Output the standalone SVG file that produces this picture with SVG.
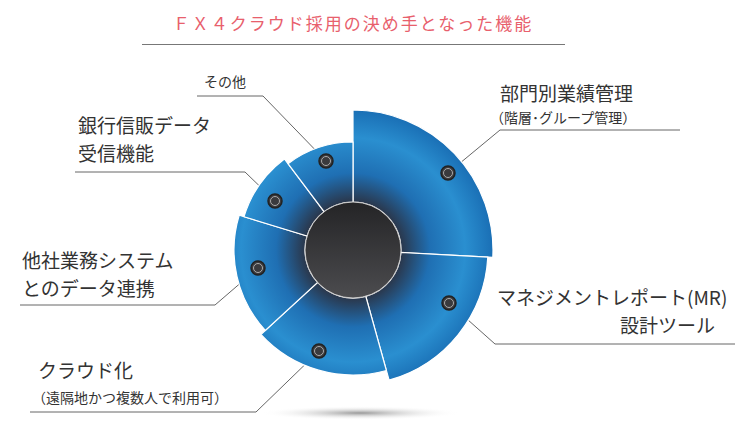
<svg xmlns="http://www.w3.org/2000/svg" width="750" height="437" viewBox="0 0 750 437">
<defs>
<radialGradient id="seg" gradientUnits="userSpaceOnUse" cx="353" cy="250" r="140">
<stop offset="0.33" stop-color="#2b3344"/>
<stop offset="0.55" stop-color="#1f6fb3"/>
<stop offset="0.8" stop-color="#2a8fd0"/>
<stop offset="1" stop-color="#1a6fb5"/>
</radialGradient>
<linearGradient id="hub" x1="0" y1="0" x2="0" y2="1">
<stop offset="0" stop-color="#242426"/><stop offset="1" stop-color="#4c4c4f"/>
</linearGradient>
<radialGradient id="shadow" cx="0.5" cy="0.5" r="0.5">
<stop offset="0" stop-color="#999"/><stop offset="1" stop-color="#fff" stop-opacity="0"/>
</radialGradient>
<style>
.seg{fill:url(#seg);stroke:#fff;stroke-width:1.2}
.dot{fill:#3a3a3d;stroke:#222;stroke-width:1.5}
.ring{fill:none;stroke:#aaa;stroke-width:1}
.lead{fill:none;stroke:#666;stroke-width:1}
.lbl{font-family:"Noto Sans CJK JP","Noto Sans",sans-serif;font-size:19px;fill:#333}
.sub{font-family:"Noto Sans CJK JP","Noto Sans",sans-serif;font-size:14px;fill:#333}
</style>
</defs>
<rect width="750" height="437" fill="#fff"/>
<text x="353" y="30" text-anchor="middle" font-family="'Noto Sans CJK JP',sans-serif" font-size="17" letter-spacing="2" fill="#e8606c">ＦＸ４クラウド採用の決め手となった機能</text>
<line x1="142" y1="44.5" x2="565" y2="44.5" stroke="#777" stroke-width="1"/>
<ellipse cx="360" cy="413" rx="100" ry="7" fill="url(#shadow)"/>
<g id="connectors">
<polyline class="lead" points="197,96 263,96 326,161"/>
<polyline class="lead" points="75,172 245,172 275,201"/>
<polyline class="lead" points="20,305 215,305 258,268"/>
<polyline class="lead" points="30,412 256,412 319,351"/>
<polyline class="lead" points="448,173 500,130 680,130"/>
<polyline class="lead" points="449,303 495,344 735,344"/>
</g>
<g id="seg1"><path class="seg" d="M353,110 A140,140 0 0 1 492.8,257.3 L400.9,252.5 A48,48 0 0 0 353,202 Z"/><circle class="dot" cx="448" cy="173" r="7"/><circle class="ring" cx="448" cy="173" r="4.5"/></g>
<g id="seg2"><path class="seg" d="M487.8,257.1 A135,135 0 0 1 389.1,380.1 L365.8,296.3 A48,48 0 0 0 400.9,252.5 Z"/><circle class="dot" cx="449" cy="303" r="7"/><circle class="ring" cx="449" cy="303" r="4.5"/></g>
<g id="seg3"><path class="seg" d="M386.4,370.5 A125,125 0 0 1 260.9,334.5 L317.6,282.4 A48,48 0 0 0 365.8,296.3 Z"/><circle class="dot" cx="319" cy="351" r="7"/><circle class="ring" cx="319" cy="351" r="4.5"/></g>
<g id="seg4"><path class="seg" d="M265.3,330.4 A119,119 0 0 1 239.2,215.2 L307.1,236 A48,48 0 0 0 317.6,282.4 Z"/><circle class="dot" cx="258" cy="268" r="7"/><circle class="ring" cx="258" cy="268" r="4.5"/></g>
<g id="seg5"><path class="seg" d="M244,216.7 A114,114 0 0 1 284.4,158.9 L324.1,211.7 A48,48 0 0 0 307.1,236 Z"/><circle class="dot" cx="275" cy="201" r="7"/><circle class="ring" cx="275" cy="201" r="4.5"/></g>
<g id="seg6"><path class="seg" d="M288,163.7 A108,108 0 0 1 353,142 L353,202 A48,48 0 0 0 324.1,211.7 Z"/><circle class="dot" cx="326" cy="161" r="7"/><circle class="ring" cx="326" cy="161" r="4.5"/></g>
<g id="hub"><circle cx="353" cy="250" r="48" fill="url(#hub)" stroke="#ccc" stroke-width="1"/></g>
<g id="labels">
<text class="sub" x="204" y="87">その他</text>
<text class="lbl" x="78" y="133">銀行信販データ</text>
<text class="lbl" x="78" y="161">受信機能</text>
<text class="lbl" x="22" y="268">他社業務システム</text>
<text class="lbl" x="22" y="296">とのデータ連携</text>
<text class="lbl" x="38" y="378">クラウド化</text>
<text class="sub" x="32" y="403">（遠隔地かつ複数人で利用可）</text>
<text class="lbl" x="500" y="101">部門別業績管理</text>
<text class="sub" x="490" y="123">（階層･グループ管理）</text>
<text class="lbl" x="497" y="305">マネジメントレポート(MR)</text>
<text class="lbl" x="620" y="333">設計ツール</text>
</g>
</svg>
